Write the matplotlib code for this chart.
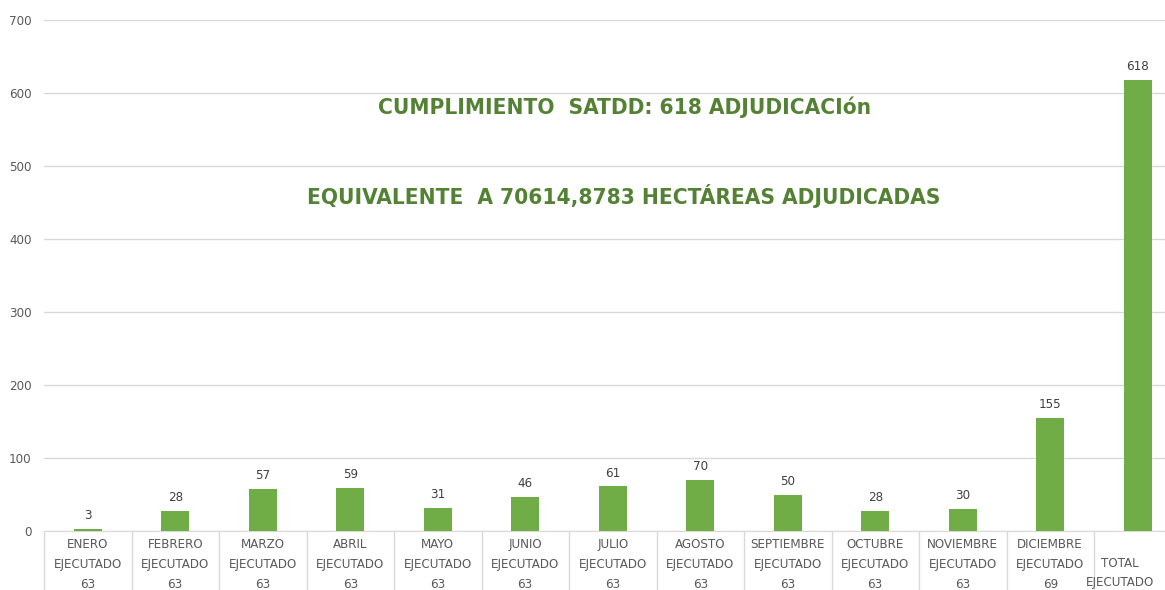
import matplotlib.pyplot as plt
import numpy as np

# datos
meses = ['ENERO', 'FEBRERO', 'MARZO', 'ABRIL', 'MAYO', 'JUNIO', 'JULIO',
         'AGOSTO', 'SEPTIEMBRE', 'OCTUBRE', 'NOVIEMBRE', 'DICIEMBRE', 'TOTAL']
meta = ['63', '63', '63', '63', '63', '63', '63', '63', '63', '63', '63', '69', '']
ejecutado = [3, 28, 57, 59, 31, 46, 61, 70, 50, 28, 30, 155, 618]
titulo1 = 'CUMPLIMIENTO  SATDD: 618 ADJUDICACIón'
titulo2 = 'EQUIVALENTE  A 70614,8783 HECTÁREAS ADJUDICADAS'

# fuente estrecha parecida a Calibri
plt.rcParams['font.family'] = ['DejaVu Sans']
plt.rcParams['font.stretch'] = 'condensed'

verde = '#70AD47'
verde_osc = '#548235'
gris = '#595959'
linea = '#D9D9D9'

fig = plt.figure(figsize=(11.65, 5.9), dpi=100)
ax = fig.add_axes([44 / 1165, 59 / 590, 1137.5 / 1165, 511 / 590])

x = np.arange(len(meses))
ax.bar(x, ejecutado, width=0.32, color=verde, zorder=3)

for xi, v in zip(x, ejecutado):
    ax.annotate(str(v), (xi, v), xytext=(0, 5), textcoords='offset points',
                ha='center', va='bottom', fontsize=9.5, color='#404040')

# etiquetas del eje x
etiquetas = []
for m, n in zip(meses, meta):
    if n:
        etiquetas.append(f'{m}\nEJECUTADO\n{n}')
    else:
        etiquetas.append('')
ax.set_xticks(x)
ax.set_xticklabels(etiquetas, fontsize=9.5, color=gris, linespacing=1.7)
ax.tick_params(axis='x', which='major', length=0, pad=5)
ax.set_xticks(np.arange(len(meses) + 1) - 0.5, minor=True)
ax.tick_params(axis='x', which='minor', length=60, color=linea, width=1)
# la etiqueta del total va un poco corrida (como en el original)
ax.text(len(meses) - 1.2, -0.05, f'{meses[-1]}\nEJECUTADO', transform=ax.get_xaxis_transform(),
        ha='center', va='top', fontsize=9.5, color=gris, linespacing=1.6)

ax.set_xlim(-0.5, len(meses) - 0.5)
ax.set_ylim(0, 700)
ax.set_yticks(range(0, 701, 100))
ax.tick_params(axis='y', length=0, labelsize=9.5, labelcolor=gris, pad=9)
ax.grid(axis='y', color=linea, linewidth=1, zorder=0)

for s in ['top', 'right', 'left']:
    ax.spines[s].set_visible(False)
ax.spines['bottom'].set_color(linea)

ax.text(0.51, 0.83, titulo1, transform=ax.transAxes, ha='center', va='center',
        fontsize=16.2, fontweight='bold', color=verde_osc)
ax.text(0.51, 0.655, titulo2, transform=ax.transAxes, ha='center', va='center',
        fontsize=16.2, fontweight='bold', color=verde_osc)

fig.savefig('out.png', dpi=100)
